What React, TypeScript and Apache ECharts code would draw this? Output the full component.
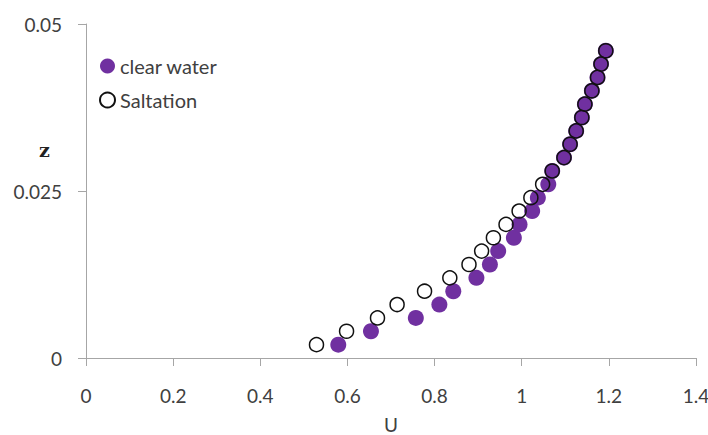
import React, { useEffect, useRef } from "react";
import * as echarts from "echarts";

const zLevels = [0.002, 0.004, 0.006, 0.008, 0.01, 0.012, 0.014, 0.016, 0.018, 0.02, 0.022, 0.024, 0.026, 0.028, 0.03, 0.032, 0.034, 0.036, 0.038, 0.04, 0.042, 0.044, 0.046];
const clearWaterU = [0.579, 0.654, 0.757, 0.811, 0.843, 0.896, 0.927, 0.946, 0.982, 0.995, 1.024, 1.037, 1.061, 1.07, 1.097, 1.111, 1.125, 1.138, 1.145, 1.161, 1.174, 1.182, 1.193];
const saltationU = [0.529, 0.598, 0.669, 0.714, 0.777, 0.835, 0.879, 0.908, 0.935, 0.964, 0.994, 1.021, 1.048, 1.07, 1.097, 1.111, 1.125, 1.138, 1.145, 1.161, 1.174, 1.182, 1.193];
const seriesNames = ["clear water", "Saltation"];
const xTitle = "U";
const yTitle = "z";

const FONT = "Lato, 'Open Sans', sans-serif";
const TXT = "#404040";
const AX = "#a6a6a6";

export default function App() {
  const ref = useRef<HTMLDivElement>(null);
  useEffect(() => {
    if (!ref.current) return;
    const chart = echarts.init(ref.current, null, { renderer: "svg" });
    chart.setOption({
      animation: false,
      backgroundColor: "#ffffff",
      grid: { left: 86, right: 12, top: 24, bottom: 77, containLabel: false, outerBoundsMode: "none" },
      legend: {
        orient: "vertical",
        left: 94,
        top: 51,
        itemWidth: 15,
        itemHeight: 15,
        itemGap: 14,
        textStyle: { fontFamily: FONT, fontSize: 20, color: TXT, lineHeight: 20 },
        data: [
          { name: seriesNames[0], icon: "circle" },
          { name: seriesNames[1], icon: "circle" },
        ],
      },
      xAxis: {
        type: "value",
        min: 0,
        max: 1.4,
        interval: 0.2,
        name: xTitle,
        nameLocation: "middle",
        nameGap: 57,
        nameTextStyle: { fontFamily: FONT, fontSize: 19, color: TXT },
        splitLine: { show: false },
        axisLine: { show: true, onZero: false, lineStyle: { color: AX, width: 1 } },
        axisTick: { show: true, length: 8, lineStyle: { color: AX } },
        axisLabel: { margin: 28, fontFamily: FONT, fontSize: 19, color: TXT },
      },
      yAxis: {
        type: "value",
        min: 0,
        max: 0.05,
        interval: 0.025,
        splitLine: { show: false },
        axisLine: { show: true, onZero: false, lineStyle: { color: AX, width: 1 } },
        axisTick: { show: true, length: 8, lineStyle: { color: AX } },
        axisLabel: { margin: 24, fontFamily: FONT, fontSize: 19, color: TXT },
      },
      graphic: [
        {
          type: "text",
          left: 39,
          top: 140,
          style: { text: yTitle, font: "bold 19px 'DejaVu Serif', 'Liberation Serif', serif", fill: "#222" },
        },
      ],
      series: [
        {
          name: seriesNames[0],
          type: "scatter",
          symbol: "circle",
          symbolSize: 16,
          itemStyle: { color: "#7030a0", opacity: 1 },
          data: clearWaterU.map((u, i) => [u, zLevels[i]]),
          z: 2,
        },
        {
          name: seriesNames[1],
          type: "scatter",
          symbol: "circle",
          symbolSize: 14,
          itemStyle: { color: "rgba(255,255,255,0)", borderColor: "#111", borderWidth: 1.5, opacity: 1 },
          data: saltationU.map((u, i) => [u, zLevels[i]]),
          z: 3,
        },
      ],
    });
    return () => chart.dispose();
  }, []);
  return <div ref={ref} style={{ width: 708, height: 435, position: "absolute", left: 0, top: 0 }} />;
}
